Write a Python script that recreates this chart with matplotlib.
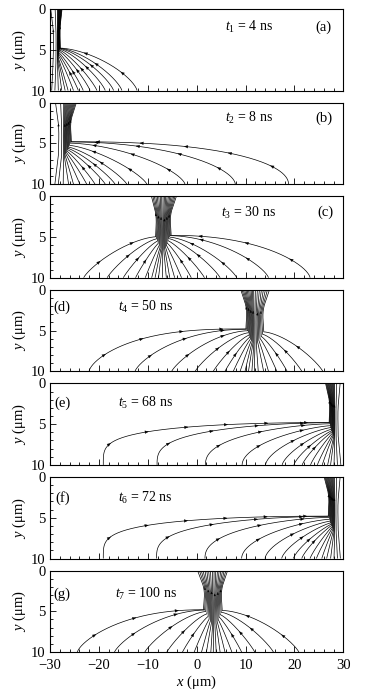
import numpy as np
import matplotlib
matplotlib.use('Agg')
import matplotlib.pyplot as plt
from matplotlib.ticker import MultipleLocator, FixedLocator

plt.rcParams['font.family'] = ['Liberation Serif', 'DejaVu Serif']
plt.rcParams['mathtext.fontset'] = 'custom'
plt.rcParams['mathtext.rm'] = 'Liberation Serif'
plt.rcParams['mathtext.it'] = 'Liberation Serif:italic'

# ---------------- data ----------------
panel_letters = ['(a)', '(b)', '(c)', '(d)', '(e)', '(f)', '(g)']
times_ns = [4, 8, 30, 50, 68, 72, 100]
filament_x = [-28.5, -27.3, -7.0, 11.8, 28.3, 28.3, 3.4]      # filament (neck) centre, um
bundle_left = [1.8, 2.1, 2.4, 2.9, 2.0, 2.3, 3.4]              # bundle half-width at y=0, left
bundle_right = [1.0, 2.8, 3.0, 3.3, 1.4, 1.4, 3.1]             # bundle half-width at y=0, right
ends_a = [-29.65, -29.0, -28.3, -27.6, -26.9, -26.3, -25.2, -24.2, -23.2,
          -21.8, -20.4, -18.7, -17.0, -15.3, -12.2]
ends_b = [-29.0, -28.3, -27.3, -26.2, -25.2, -23.9, -22.5, -20.8, -18.7,
          -16.7, -14.3, -10.2, -2.4, 7.9, 18.8]
ends_c = [-23.1, -18.3, -15.0, -12.5, -10.5, -9.2, -8.5, -7.8, -7.0, -6.2,
          -5.5, -4.5, -3.1, -1.1, 1.6, 4.8, 8.2, 14.7, 23.2]
ends_d = [-22.0, -12.6, -5.1, -0.3, 3.4, 5.8, 7.5, 8.9, 9.9, 10.6, 11.3,
          11.8, 12.6, 13.7, 14.7, 16.4, 18.5, 21.5, 25.8]
ends_e = [-19.1, -8.1, 1.8, 9.3, 14.1, 17.5, 19.9, 21.6, 23.3, 24.7, 25.7,
          26.8, 27.4, 28.1, 28.8, 29.5]
ends_f = [-19.1, -8.2, 1.7, 9.2, 14.0, 17.4, 19.8, 21.5, 23.2, 24.5, 25.6,
          26.6, 27.4, 28.1, 28.8, 29.4]
ends_g = [-24.4, -16.8, -10.6, -6.1, -2.9, -0.5, 1.0, 2.0, 2.9, 3.4, 4.0,
          4.8, 5.8, 7.2, 9.2, 11.9, 15.7, 20.9]
line_ends = [ends_a, ends_b, ends_c, ends_d, ends_e, ends_f, ends_g]

# ---------------- styling / geometry ----------------
shape_P = [1.6, 2.4, 2.2, 2.7, 2.15, 2.15, 2.2]
shape_Q = [1.4, 2.0, 1.5, 1.5, 4.0, 4.0, 1.4]
tlabel_x = [10.7, 10.7, 10.7, -10.4, -10.4, -10.4, -10.4]
letter_x = [26.0, 26.0, 26.3, -27.5, -27.5, -27.5, -27.5]
label_y = [2.25, 1.9, 2.0, 2.1, 2.4, 2.6, 2.85]
NECK_Y = 4.8

W, H = 367, 698
fig = plt.figure(figsize=(W / 100, H / 100), dpi=100)

LW = 0.5


def add_arrow(ax, xs, ys, idx, back=True, scale=4.0):
    j2 = idx - 2 if back else idx + 2
    j2 = max(0, min(len(xs) - 1, j2))
    ax.annotate('', xy=(xs[j2], ys[j2]), xytext=(xs[idx], ys[idx]),
                arrowprops=dict(arrowstyle='-|>,head_length=0.6,head_width=0.25',
                                lw=0.2, color='k', shrinkA=0, shrinkB=0,
                                mutation_scale=scale))


for k in range(7):
    top_px = 9 + 93.6 * k
    h_px = 81.5
    ax = fig.add_axes([50 / W, 1 - (top_px + h_px) / H, 293.3 / W, h_px / H])
    xc = filament_x[k]
    ends = np.array(line_ends[k])
    P, Q = shape_P[k], shape_Q[k]

    left = ends[ends < xc - 0.05]
    right = ends[ends >= xc - 0.05]
    dmax = np.max(np.abs(ends - xc))
    lines = []
    for side, arr in ((-1, np.sort(left)[::-1]), (1, np.sort(right))):
        n = len(arr)
        for i, xe in enumerate(arr):
            r = side * (i + 0.5) / max(n, 1)
            lines.append((r, xe))

    for li, (r, xe) in enumerate(lines):
        wt = bundle_left[k] if r < 0 else bundle_right[k]
        s = min(1.0, abs(xe - xc) / dmax)
        ys0 = NECK_Y + 1.8 * (1 - s) ** 3
        # upper bundle part: column with a slight waist
        t = np.linspace(0, 1, 100)
        f = 0.62 + 0.38 * (1 - t) ** 2.5 - 0.1 * np.sin(np.pi * t) ** 2
        xu = xc + r * wt * f
        yu = ys0 * t
        xn = xu[-1]
        dx = xe - xn
        # fan part (superellipse)
        p = 1 + (P - 1) * s ** 1.3
        q = 1 + (Q - 1) * s ** 1.3
        th = np.linspace(0, np.pi / 2, 300)
        u = np.sin(th) ** (2 / p)
        v = np.cos(th) ** (2 / q)
        xf = xn + dx * u
        yf = 10 - (10 - ys0) * v
        xx = np.concatenate([xu, xf])
        yy = np.concatenate([yu, yf])
        ax.plot(xx, yy, color='k', lw=LW, solid_capstyle='butt', clip_on=True)
        # arrows on fan part, pointing toward the filament
        dpx = np.hypot(np.diff(xf) * 4.888, np.diff(yf) * 8.15)
        L = np.concatenate([[0], np.cumsum(dpx)])
        na = int(L[-1] // 40)
        for j in range(na):
            target = L[-1] * (j + 0.6) / (na + 0.2)
            idx = int(np.searchsorted(L, target))
            idx = max(4, min(len(xf) - 2, idx))
            add_arrow(ax, xf, yf, idx, back=True)
        # small arrows scattered in the bundle
        if li % 3 == 1:
            add_arrow(ax, xu, yu, 25 + (li * 17) % 50, back=True, scale=2.5)

    ax.set_xlim(-30, 30)
    ax.set_ylim(10, 0)
    ax.xaxis.set_major_locator(MultipleLocator(10))
    ax.xaxis.set_minor_locator(MultipleLocator(2))
    ax.yaxis.set_major_locator(FixedLocator([0, 5, 10]))
    ax.yaxis.set_minor_locator(MultipleLocator(1))
    ax.tick_params(which='both', direction='in', top=False, right=False,
                   labelsize=10.5, width=0.6, pad=3)
    ax.tick_params(axis='x', pad=5)
    ax.tick_params(which='major', length=4)
    ax.tick_params(which='minor', length=2)
    for sp in ax.spines.values():
        sp.set_linewidth(0.8)
    if k < 6:
        ax.set_xticklabels([])
    else:
        ax.set_xticks([-30, -20, -10, 0, 10, 20, 30])
        ax.set_xticklabels(['\u221230', '\u221220', '\u221210', '0', '10', '20', '30'])
        ax.set_xlabel('$x$ (\u03bcm)', fontsize=10.5, labelpad=1)
    ax.set_ylabel('$y$ (\u03bcm)', fontsize=10.5, labelpad=2)

    ax.text(tlabel_x[k], label_y[k], '$t_{%d}$ = %d ns' % (k + 1, times_ns[k]),
            fontsize=10, ha='center', va='center')
    ax.text(letter_x[k], label_y[k], panel_letters[k], fontsize=10.5,
            ha='center', va='center')

fig.savefig('out.png', dpi=100)
